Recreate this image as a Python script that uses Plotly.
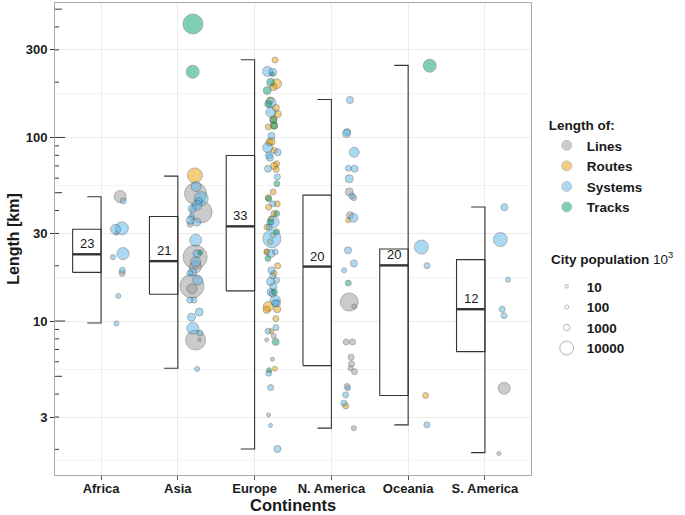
import numpy as np
import plotly.graph_objects as go

# ---------------- data ----------------
continents = ["Africa", "Asia", "Europe", "N. America", "Oceania", "S. America"]

# box statistics per continent: lower whisker, Q1, median, Q3, upper whisker (km)
box_lo = [9.75, 5.53, 2.01, 2.61, 2.72, 1.92]
box_q1 = [18.4, 14.0, 14.6, 5.72, 3.93, 6.81]
box_med = [23.1, 21.2, 32.8, 19.8, 20.1, 11.6]
box_q3 = [31.6, 37.1, 79.8, 48.5, 24.7, 21.6]
box_hi = [47.5, 61.6, 265, 161, 247, 41.8]

# individual networks: length (km), type (L=Lines, R=Routes, S=Systems, T=Tracks), city population (10^3)
africa_len = [47.7, 45.1, 32.0, 31.6, 30.1, 23.3, 22.3, 18.9, 18.2, 13.7, 9.7]
africa_type = ["L", "S", "S", "S", "L", "S", "S", "S", "L", "S", "S"]
africa_pop = [7000, 780, 8600, 4200, 90, 7000, 350, 780, 780, 350, 350]

asia_len = [415, 228, 62.1, 49.4, 54, 46.4, 45, 42.7, 39.3, 40.9, 36.9, 34.6, 35.4, 33.7,
            27.6, 22.3, 23.6, 23.3, 21.0, 19.7, 18.5, 18.2, 15.5, 16.7, 15.0, 13.0, 13.0,
            11.2, 10.5, 9.13, 8.6, 7.88, 7.9, 5.48]
asia_type = ["T", "T", "R", "L", "S", "S", "S", "S", "L", "S", "S", "S", "S", "L",
             "S", "L", "T", "S", "S", "L", "S", "S", "L", "S", "L", "S", "S",
             "S", "S", "S", "S", "L", "L", "S"]
asia_pop = [24900, 8600, 12400, 31000, 4200, 10400, 1400, 4200, 31000, 2150, 780, 2150, 2150, 780,
            7000, 38000, 350, 2150, 4200, 7000, 2150, 780, 38000, 4200, 4200, 780, 780,
            2150, 2150, 7000, 780, 24900, 10, 350]

europe_len = [264, 229, 226, 222, 196, 200, 188, 180, 155, 159, 152, 145, 137, 134, 124, 126,
              116, 116, 114, 102, 94, 95, 88, 83, 80, 85, 77.5, 72, 70, 67.6, 67, 61, 56,
              50.5, 47, 46.3, 43.5, 43.5, 41.7, 38.5, 38.5, 34.6, 34.6, 36, 32.5, 32.5, 30.6,
              28.1, 29.3, 27, 23.8, 23.8, 23.3, 23.8, 21.9, 20, 18.2, 18.9, 17.6, 16.7, 16.4,
              15.4, 14.4, 14.4, 14.1, 13, 12.5, 12, 11.6, 11.5, 12.5, 10.3, 8.8, 8.8, 9.2,
              7.9, 8.3, 7.7, 6.2, 5.5, 5.4, 5.2, 4.34, 3.08, 2.7, 2.01]
europe_type = ["R", "S", "S", "T", "R", "T", "R", "T", "S", "R", "T", "R", "S", "R", "T", "R",
               "R", "T", "R", "S", "R", "R", "S", "S", "S", "R", "S", "R", "R", "S", "R", "S", "T",
               "R", "R", "T", "R", "S", "R", "T", "R", "S", "T", "R", "S", "R", "T",
               "S", "R", "R", "S", "R", "S", "R", "T", "R", "R", "S", "S", "S", "S",
               "S", "T", "S", "S", "S", "S", "R", "R", "R", "S", "R", "S", "R", "S",
               "L", "L", "T", "L", "R", "T", "S", "S", "L", "S", "S"]
europe_pop = [780, 4200, 2150, 90, 4200, 2150, 1400, 2150, 4200, 1400, 1400, 1400, 4200, 1400, 1400, 1400,
              1400, 1400, 780, 1400, 1400, 2150, 4200, 1400, 1400, 780, 1400, 780, 1400, 1400, 780, 780, 780,
              780, 780, 780, 780, 780, 780, 780, 780, 7000, 780, 780, 780, 780, 780,
              19400, 780, 780, 780, 780, 2150, 350, 780, 780, 780, 1400, 780, 780, 2150,
              1400, 780, 1400, 1400, 4200, 1400, 4200, 1400, 1400, 1400, 780, 780, 350, 780,
              90, 350, 1400, 90, 350, 350, 780, 780, 90, 90, 1400]

namerica_len = [160, 107, 105, 83, 68, 67.6, 59.6, 50.5, 47, 48, 37.7, 35.4, 36.5, 24.3, 20.6,
                18.9, 16.1, 12.7, 12.0, 7.7, 7.7, 6.35, 5.84, 5.53, 5.3, 4.4, 4.3, 3.96, 3.57,
                3.45, 2.61]
namerica_type = ["S", "S", "S", "S", "S", "S", "S", "L", "L", "S", "L", "R", "S", "S", "S",
                 "S", "T", "L", "L", "L", "L", "L", "L", "L", "L", "L", "S", "S", "S",
                 "R", "L"]
namerica_pop = [1400, 1400, 2150, 4200, 780, 1400, 2150, 2150, 780, 780, 1400, 350, 3100, 1400, 1400,
                350, 780, 19400, 350, 780, 780, 780, 780, 350, 780, 780, 350, 780, 780,
                780, 350]

oceania_len = [246, 25.3, 20, 3.93, 2.72]
oceania_type = ["T", "S", "S", "R", "S"]
oceania_pop = [8600, 10400, 780, 780, 780]

samerica_len = [41.7, 27.8, 16.8, 11.6, 10.7, 4.3, 1.9]
samerica_type = ["S", "S", "S", "S", "S", "L", "L"]
samerica_pop = [1400, 10400, 350, 780, 780, 7000, 90]

type_names = {"L": "Lines", "R": "Routes", "S": "Systems", "T": "Tracks"}
type_colors = {"L": "#999999", "R": "#E69F00", "S": "#56B4E9", "T": "#009E73"}
legend_pops = [10, 100, 1000, 10000]
y_major = [3, 10, 30, 100, 300]

# ---------------- helpers ----------------
def msize(p):
    return 3 + 21 * np.sqrt(np.asarray(p, dtype=float) / 38000.0)

groups = [
    (africa_len, africa_type, africa_pop),
    (asia_len, asia_type, asia_pop),
    (europe_len, europe_type, europe_pop),
    (namerica_len, namerica_type, namerica_pop),
    (oceania_len, oceania_type, oceania_pop),
    (samerica_len, samerica_type, samerica_pop),
]

rng = np.random.default_rng(7)
pts = {k: {"x": [], "y": [], "s": []} for k in type_names}
for ci, (ln, tp, pp) in enumerate(groups):
    assert len(ln) == len(tp) == len(pp), ci
    jit = rng.uniform(-0.075, 0.075, len(ln))
    for v, t, p, j in zip(ln, tp, pp, jit):
        pts[t]["x"].append(ci + 0.23 + j)
        pts[t]["y"].append(v)
        pts[t]["s"].append(float(msize(p)))

fig = go.Figure()

BOXW = 0.37
CAPW = 0.18
LC = "#333333"

# boxes (white filled)
bx, by = [], []
for i in range(len(continents)):
    bx += [i - BOXW, i, i, i - BOXW, i - BOXW, None]
    by += [box_q1[i], box_q1[i], box_q3[i], box_q3[i], box_q1[i], None]
fig.add_trace(go.Scatter(x=bx, y=by, mode="lines", fill="toself", fillcolor="white",
                         line=dict(color=LC, width=1.1), showlegend=False, hoverinfo="skip"))
# whiskers
wx, wy = [], []
for i in range(len(continents)):
    wx += [i - CAPW, i, i, i - CAPW, None]
    wy += [box_hi[i], box_hi[i], box_lo[i], box_lo[i], None]
fig.add_trace(go.Scatter(x=wx, y=wy, mode="lines", line=dict(color=LC, width=1.1),
                         showlegend=False, hoverinfo="skip"))
# medians
mx, my = [], []
for i in range(len(continents)):
    mx += [i - BOXW, i, None]
    my += [box_med[i], box_med[i], None]
fig.add_trace(go.Scatter(x=mx, y=my, mode="lines", line=dict(color=LC, width=2.4),
                         showlegend=False, hoverinfo="skip"))

# points
for t in ["L", "R", "S", "T"]:
    fig.add_trace(go.Scatter(
        x=pts[t]["x"], y=pts[t]["y"], mode="markers",
        marker=dict(size=pts[t]["s"], color=type_colors[t], opacity=0.5,
                    line=dict(color="#444444", width=0.8)),
        showlegend=False, name=type_names[t]))

# colour legend
for t in ["L", "R", "S", "T"]:
    fig.add_trace(go.Scatter(
        x=[None], y=[None], mode="markers", name=f"<b>{type_names[t]}</b>",
        marker=dict(size=10, color=type_colors[t], opacity=0.5,
                    line=dict(color="#777777", width=0.8)),
        legend="legend"))
# size legend
for p in legend_pops:
    fig.add_trace(go.Scatter(
        x=[None], y=[None], mode="markers", name=f"<b>{p}</b>",
        marker=dict(size=float(msize(p)), color="white",
                    line=dict(color="#aaaaaa", width=0.9)),
        legend="legend2"))

# median labels
for i in range(len(continents)):
    fig.add_annotation(x=i - BOXW / 2, y=np.log10(box_med[i]), xref="x", yref="y",
                       text=f"{box_med[i]:.0f}", showarrow=False, yanchor="bottom", yshift=1,
                       font=dict(family="Liberation Sans, Arial", size=13, color="#1a1a1a"))

# size legend title
fig.add_annotation(x=1.038, y=0.4597, xref="paper", yref="paper", xanchor="left", yanchor="middle",
                   text="<b>City population</b> 10<sup>3</sup>", showarrow=False,
                   font=dict(size=13.5, color="#1a1a1a"))
# x-axis title
fig.add_annotation(x=0.5, y=-0.064, xref="paper", yref="paper", xanchor="center", yanchor="middle",
                   text="<b>Continents</b>", showarrow=False, borderpad=0,
                   font=dict(size=16.5, color="#1a1a1a"))

# log ticks (annotation_logticks style, drawn inside the left axis)
plot_w = 476.0
for dec in [1, 10, 100]:
    for m in range(1, 10):
        v = m * dec
        if v < 1.45 or v > 540:
            continue
        if m == 1:
            L = 10
        elif m == 5:
            L = 7
        else:
            L = 4
        fig.add_shape(type="line", xref="x domain", yref="y", x0=0, x1=L / plot_w, y0=v, y1=v,
                      line=dict(color=LC, width=1))

FONT = "Liberation Sans, Arial, sans-serif"
fig.update_layout(
    width=685, height=515,
    margin=dict(l=55, r=154, t=3, b=40, autoexpand=False),
    plot_bgcolor="white", paper_bgcolor="white",
    font=dict(family=FONT, color="#1a1a1a"),
    xaxis=dict(
        tickmode="array", tickvals=list(range(len(continents))),
        ticktext=[f"<b>{c}</b>" for c in continents],
        range=[-0.6, 5.6], showgrid=True, gridcolor="#ebebeb", gridwidth=1,
        zeroline=False, ticks="outside", ticklen=4, tickcolor="#555555",
        showline=True, mirror=True, linecolor="#aaaaaa", linewidth=1,
        tickfont=dict(size=13, color="#1a1a1a"), automargin=False,
        ticklabelstandoff=-3,
    ),
    yaxis=dict(
        type="log", range=[np.log10(1.45), np.log10(540)],
        tickmode="array", tickvals=y_major, ticktext=[f"<b>{v}</b>" for v in y_major],
        showgrid=True, gridcolor="#ebebeb", gridwidth=1,
        minor=dict(tickmode="array", tickvals=[1.73, 5.48, 17.3, 54.8, 173, 548],
                   showgrid=True, gridcolor="#f3f3f3", gridwidth=0.8, ticks=""),
        zeroline=False, ticks="outside", ticklen=4, tickcolor=LC,
        showline=True, mirror=True, linecolor="#aaaaaa", linewidth=1,
        tickfont=dict(size=13, color="#1a1a1a"), automargin=False,
        title=dict(text="<b>Length [km]</b>", font=dict(size=16, color="#1a1a1a"), standoff=2),
    ),
    legend=dict(
        x=1.033, y=0.768, xanchor="left", yanchor="top",
        title=dict(text="<b>Length of:</b>", font=dict(size=13.5)),
        font=dict(size=13.5), itemsizing="trace", bgcolor="rgba(0,0,0,0)",
        tracegroupgap=0,
    ),
    legend2=dict(
        x=1.033, y=0.432, xanchor="left", yanchor="top",
        font=dict(size=13.5), itemsizing="trace", bgcolor="rgba(0,0,0,0)",
    ),
)

fig.write_html("out.html", config={"displayModeBar": False})
with open("out.html", "r", encoding="utf-8") as f:
    html = f.read()
html = html.replace("<head>", "<head><style>html,body{margin:0;padding:0;overflow:hidden;}</style>", 1)
with open("out.html", "w", encoding="utf-8") as f:
    f.write(html)
